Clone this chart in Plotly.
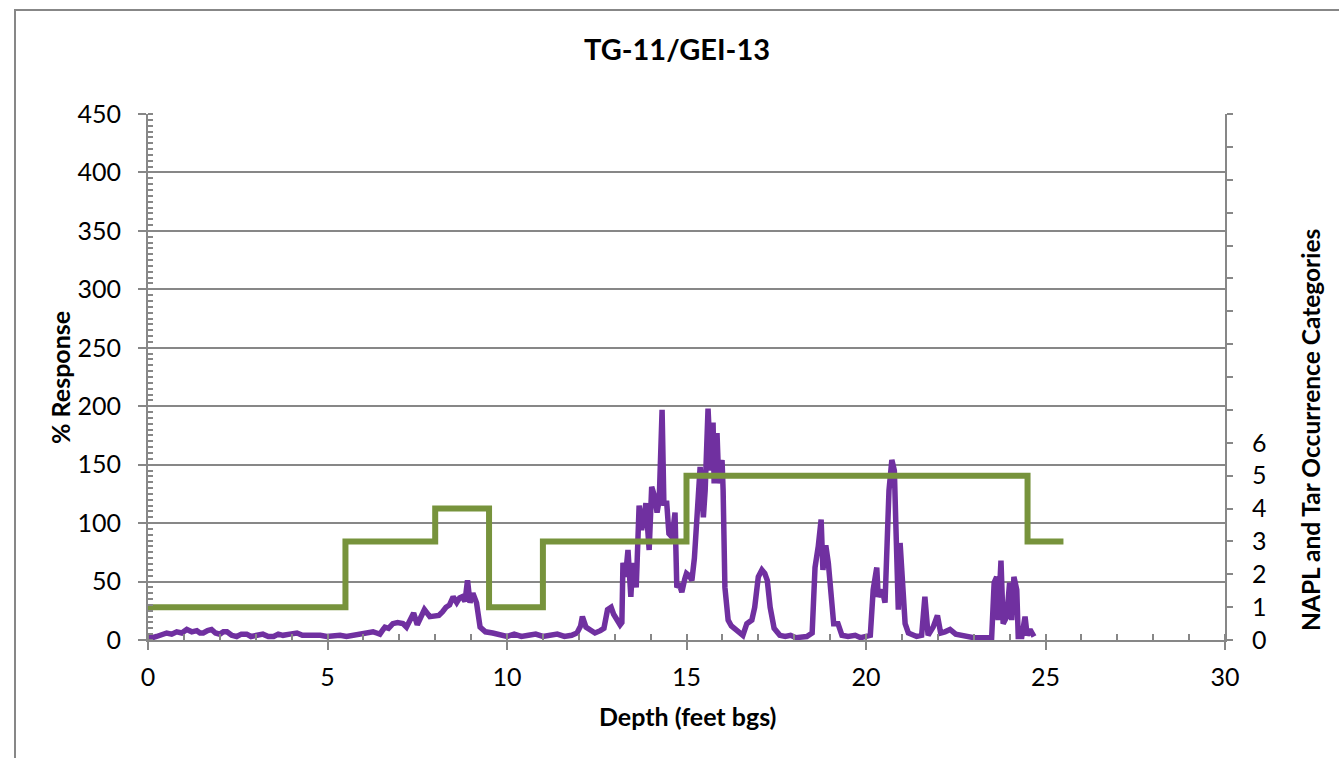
import plotly.graph_objects as go

# NAPL / tar occurrence category steps (right axis)
cat_depth = [0, 5.5, 8, 9.5, 11, 15, 24.5, 25.5]
cat_value = [1, 3, 4, 1, 3, 5, 3, 3]

# % Response log (left axis)
depth_ft = [
    0.00, 0.12, 0.24, 0.38, 0.52, 0.66, 0.80, 0.94, 1.08, 1.22, 1.36, 1.45, 1.54, 1.66, 1.77, 1.88,
    2.00, 2.10, 2.20, 2.33, 2.47, 2.60, 2.75, 2.87, 2.98, 3.10, 3.20, 3.35, 3.50, 3.63, 3.76, 3.95,
    4.15, 4.30, 4.43, 4.60, 4.80, 4.98, 5.16, 5.35, 5.53, 5.70, 5.90, 6.10, 6.27, 6.37, 6.46, 6.55,
    6.60, 6.70, 6.82, 6.95, 7.10, 7.20, 7.30, 7.40, 7.50, 7.60, 7.70, 7.85, 8.00, 8.10, 8.20, 8.30,
    8.40, 8.50, 8.60, 8.68, 8.75, 8.83, 8.90, 8.97, 9.05, 9.15, 9.25, 9.40, 9.60, 9.80, 10.00, 10.20,
    10.40, 10.60, 10.80, 11.00, 11.20, 11.40, 11.60, 11.80, 11.95, 12.05, 12.10, 12.20, 12.30, 12.45,
    12.60, 12.70, 12.80, 12.90, 12.97, 13.05, 13.15, 13.20, 13.23, 13.30, 13.37, 13.45, 13.50, 13.60,
    13.68, 13.75, 13.82, 13.87, 13.96, 14.03, 14.12, 14.18, 14.24, 14.32, 14.37, 14.45, 14.51, 14.60,
    14.68, 14.73, 14.80, 14.87, 14.95, 15.00, 15.08, 15.15, 15.22, 15.29, 15.33, 15.38, 15.47, 15.52,
    15.60, 15.65, 15.68, 15.74, 15.77, 15.85, 15.90, 15.99, 16.02, 16.07, 16.16, 16.25, 16.35, 16.45,
    16.57, 16.68, 16.82, 16.90, 17.00, 17.10, 17.18, 17.25, 17.33, 17.44, 17.60, 17.75, 17.90, 18.05,
    18.20, 18.35, 18.50, 18.58, 18.67, 18.75, 18.80, 18.88, 18.95, 19.02, 19.10, 19.22, 19.33, 19.50,
    19.70, 19.85, 20.00, 20.12, 20.20, 20.30, 20.34, 20.45, 20.53, 20.58, 20.64, 20.72, 20.79, 20.83,
    20.90, 20.95, 21.02, 21.09, 21.18, 21.30, 21.41, 21.55, 21.64, 21.73, 21.87, 21.99, 22.08, 22.20,
    22.34, 22.50, 22.62, 22.80, 23.00, 23.27, 23.50, 23.57, 23.64, 23.68, 23.76, 23.82, 23.92, 24.00,
    24.06, 24.12, 24.20, 24.24, 24.34, 24.43, 24.49, 24.57, 24.68,
]
response_pct = [
    4, 2, 3, 5, 6, 5, 7, 6, 9, 7, 8, 6, 6, 8, 9, 6,
    5, 7, 7, 4, 3, 5, 5, 3, 3.5, 5, 5, 3, 3, 5, 4, 5,
    6, 4, 4, 5, 4, 3, 3.5, 4, 3, 4, 5, 6, 7, 6, 5, 9,
    11, 10, 14, 15, 14, 11, 17, 23, 13, 20, 26, 20, 21, 21, 24, 28,
    30, 37, 32, 36, 37, 33, 51, 32, 40, 32, 11, 7, 6, 4, 3, 5,
    3, 4, 5, 3, 4, 5, 3, 4, 6, 12, 20, 11, 9, 6,
    8, 10, 26, 28, 22, 17, 13, 15, 66, 54, 77, 37, 66, 45,
    115, 94, 110, 117, 77, 131, 122, 109, 120, 197, 117, 117, 91, 88,
    109, 45, 48, 41, 52, 57, 55, 51, 70, 103, 110, 148, 105, 128,
    198, 170, 145, 186, 134, 177, 134, 154, 128, 45, 17, 12, 9, 6,
    4, 14, 17, 28, 54, 60, 57, 51, 28, 10, 4, 3, 4, 2,
    3, 3, 6, 62, 80, 103, 60, 81, 66, 37, 14, 14, 4, 3,
    4, 2, 3, 4, 43, 62, 37, 43, 32, 94, 128, 154, 145, 100,
    26, 83, 37, 14, 6, 4, 3, 4, 37, 4, 11, 21, 6, 7,
    9, 5, 4, 3, 2, 2, 2, 49, 54, 17, 68, 14, 20, 49,
    17, 54, 43, 3, 3, 20, 4, 9, 3,
]

x_ticks = [0, 5, 10, 15, 20, 25, 30]
y_ticks = [0, 50, 100, 150, 200, 250, 300, 350, 400, 450]
y2_ticks = list(range(17))
y2_labels = [str(v) if v <= 6 else "" for v in y2_ticks]

GRAY = "#878787"
FONT = "Lato"

fig = go.Figure()
fig.add_trace(go.Scatter(
    x=depth_ft, y=response_pct, mode="lines",
    line=dict(color="#7030A0", width=5.5), yaxis="y", showlegend=False,
))
fig.add_trace(go.Scatter(
    x=cat_depth, y=cat_value, mode="lines", line_shape="hv",
    line=dict(color="#77933C", width=6), yaxis="y2", showlegend=False,
))

tickfont = dict(family=FONT, size=25, color="black")
fig.update_layout(
    width=1339, height=758,
    margin=dict(l=148, r=114, t=114, b=118),
    paper_bgcolor="white", plot_bgcolor="white",
    title=dict(text="<b>TG-11/GEI-13</b>", x=677 / 1339, xanchor="center",
               y=1 - 50 / 758, yanchor="middle",
               font=dict(family=FONT, size=29, color="black")),
    xaxis=dict(range=[0, 30], tickvals=x_ticks, ticks="outside", ticklen=8, tickwidth=2,
               tickcolor=GRAY, showline=True, linecolor=GRAY, linewidth=2, showgrid=False,
               zeroline=False, tickfont=tickfont, ticklabelstandoff=6,
               minor=dict(ticks="inside", dtick=1, ticklen=6, tickwidth=2, tickcolor=GRAY,
                          showgrid=False)),
    yaxis=dict(range=[0, 450], tickvals=y_ticks, ticks="outside", ticklen=8, tickwidth=2,
               tickcolor=GRAY, showline=True, linecolor=GRAY, linewidth=2, showgrid=True,
               gridcolor=GRAY, gridwidth=2, zeroline=False, tickfont=tickfont,
               ticklabelstandoff=12,
               minor=dict(ticks="inside", dtick=5, ticklen=5, tickwidth=1.5, tickcolor=GRAY,
                          showgrid=False)),
    yaxis2=dict(range=[0, 16], overlaying="y", side="right", tickvals=y2_ticks,
                ticktext=y2_labels, ticks="outside", ticklen=6, tickwidth=2, tickcolor=GRAY,
                showline=True, linecolor=GRAY, linewidth=2, showgrid=False, zeroline=False,
                tickfont=tickfont, ticklabelstandoff=14),
)

# Axis titles
fig.add_annotation(text="<b>% Response</b>", xref="paper", yref="paper",
                   x=(60 - 148) / 1077, y=(640 - 378) / 526, textangle=-90,
                   xanchor="center", yanchor="middle",
                   showarrow=False, font=dict(family=FONT, size=25, color="black"))
fig.add_annotation(text="<b>Depth (feet bgs)</b>", xref="paper", yref="paper",
                   x=(687 - 148) / 1077, y=(640 - 716) / 526,
                   xanchor="center", yanchor="middle",
                   showarrow=False, font=dict(family=FONT, size=25, color="black"))
fig.add_annotation(text="<b>NAPL and Tar Occurrence Categories</b>", xref="paper", yref="paper",
                   x=(1310 - 148) / 1077, y=(640 - 430) / 526, textangle=-90,
                   xanchor="center", yanchor="middle",
                   showarrow=False, font=dict(family=FONT, size=24.5, color="black"))

# Chart area border
fig.add_shape(type="rect", xref="paper", yref="paper",
              x0=(15 - 148) / 1077, x1=(1345 - 148) / 1077,
              y0=(640 - 770) / 526, y1=(640 - 10) / 526,
              line=dict(color=GRAY, width=2), layer="below")

fig.write_html("out.html")
